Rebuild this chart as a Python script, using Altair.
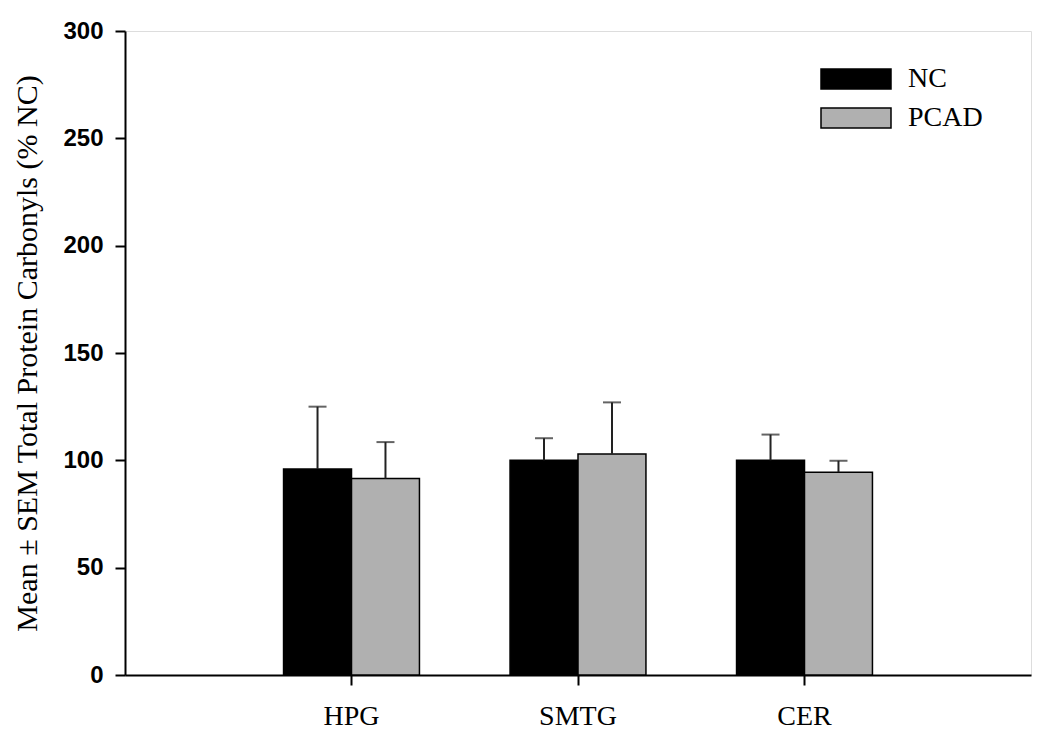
import altair as alt
import pandas as pd

regions = ["HPG", "SMTG", "CER"]
groups = ["NC", "PCAD"]
nc_mean = [96.0, 100.0, 100.0]
nc_sem = [29.0, 10.3, 12.0]
pcad_mean = [91.5, 103.0, 94.5]
pcad_sem = [17.0, 24.0, 5.3]
y_ticks = [0, 50, 100, 150, 200, 250, 300]

rows = []
for i, r in enumerate(regions):
    rows.append({"region": r, "group": "NC", "mean": nc_mean[i], "upper": nc_mean[i] + nc_sem[i]})
    rows.append({"region": r, "group": "PCAD", "mean": pcad_mean[i], "upper": pcad_mean[i] + pcad_sem[i]})
df = pd.DataFrame(rows)

x = alt.X("region:N", sort=regions, title=None,
          scale=alt.Scale(paddingInner=0.4, paddingOuter=0.7),
          axis=alt.Axis(labelAngle=0, labelFont="Liberation Serif", labelFontSize=28,
                        labelColor="black", tickSize=10, labelPadding=17,
                        tickColor="black", tickWidth=2, domainColor="black", domainWidth=2))
xo = alt.XOffset("group:N", sort=groups,
                 scale=alt.Scale(domain=groups, paddingInner=0, paddingOuter=0))
yscale = alt.Scale(domain=[0, 300], nice=False)

bars = alt.Chart(df).mark_bar(stroke="black", strokeWidth=1.5).encode(
    x=x, xOffset=xo,
    y=alt.Y("mean:Q", scale=yscale,
            title="Mean ± SEM Total Protein Carbonyls (% NC)",
            axis=alt.Axis(values=y_ticks, grid=False, labelFont="Liberation Sans",
                          labelFontWeight="bold", labelFontSize=24, labelColor="black",
                          tickSize=10, labelPadding=12, tickColor="black", tickWidth=2,
                          domainColor="black", domainWidth=2,
                          titleFont="Liberation Serif", titleFontSize=30,
                          titleFontWeight="normal", titleColor="black", titlePadding=20)),
    fill=alt.Fill("group:N", sort=groups,
                  scale=alt.Scale(domain=groups, range=["#000000", "#b0b0b0"]),
                  legend=alt.Legend(title=None, orient="none", legendX=717, legendY=34,
                                    symbolType="M-3.5,-1H3.5V1H-3.5Z", symbolSize=400,
                                    symbolStrokeColor="black", symbolStrokeWidth=1.5,
                                    labelFont="Liberation Serif", labelFontSize=28,
                                    labelColor="black", labelOffset=38, rowPadding=11,
                                    padding=0)),
)

errs = alt.Chart(df).mark_rule(color="#222222", strokeWidth=2).encode(
    x=x, xOffset=xo, y=alt.Y("mean:Q", scale=yscale), y2="upper:Q")

caps = alt.Chart(df).mark_tick(color="#222222", orient="horizontal", size=18, thickness=2).encode(
    x=x, xOffset=xo, y=alt.Y("upper:Q", scale=yscale))

chart = alt.layer(bars, errs, caps).properties(
    width=906, height=644,
    autosize=alt.AutoSizeParams(type="none"),
    padding={"left": 117, "top": 23, "right": 11, "bottom": 55},
).configure_view(stroke="black", strokeWidth=2).configure(background="white")

chart.save("out.html", embed_options={"renderer": "svg", "actions": False})
